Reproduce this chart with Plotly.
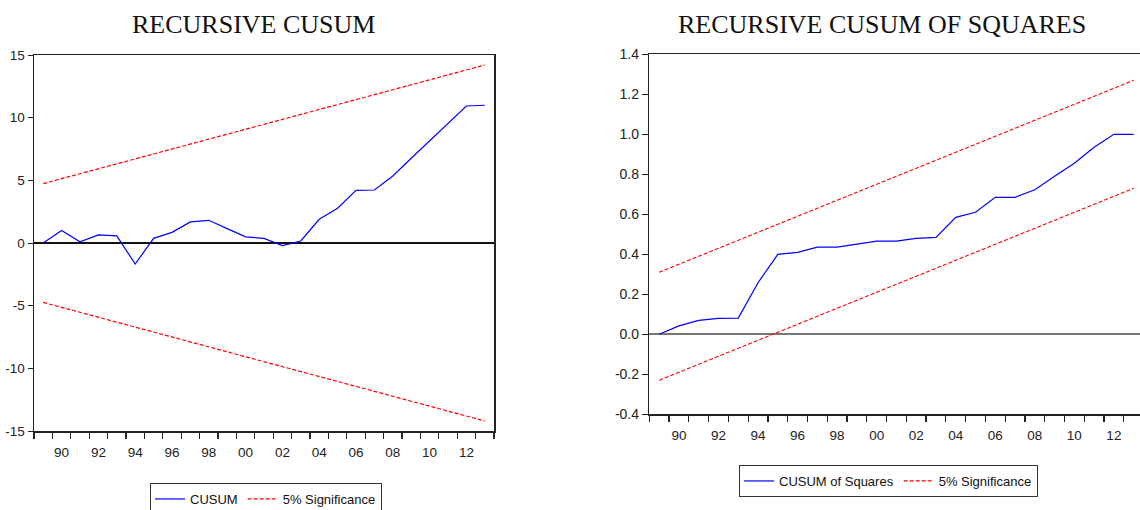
import plotly.graph_objects as go

# ---------------- data ----------------
years = list(range(1989, 2014))
cusum = [0.0, 1.0, 0.1, 0.65, 0.57, -1.68, 0.37, 0.85, 1.68, 1.81, 1.15, 0.49,
         0.37, -0.21, 0.16, 1.89, 2.77, 4.20, 4.23, 5.35, 6.76, 8.17, 9.55, 10.93, 10.99]
band_years = [1989, 2013]
cusum_upper = [4.74, 14.2]
cusum_lower = [-4.74, -14.2]

cusum_sq = [0.0, 0.042, 0.07, 0.08, 0.081, 0.258, 0.40, 0.41, 0.436, 0.436, 0.451, 0.466,
            0.466, 0.48, 0.485, 0.585, 0.61, 0.685, 0.685, 0.723, 0.79, 0.855, 0.935, 1.0, 1.0]
sq_upper = [0.31, 1.27]
sq_lower = [-0.23, 0.73]

label_years = [1990, 1992, 1994, 1996, 1998, 2000, 2002, 2004, 2006, 2008, 2010, 2012]
label_text = ["90", "92", "94", "96", "98", "00", "02", "04", "06", "08", "10", "12"]

cusum_yticks = [-15, -10, -5, 0, 5, 10, 15]
cusum_ylabels = ["-15", "-10", "-5", "0", "5", "10", "15"]
sq_yticks = [-0.4, -0.2, 0.0, 0.2, 0.4, 0.6, 0.8, 1.0, 1.2, 1.4]
sq_ylabels = ["-0.4", "-0.2", "0.0", "0.2", "0.4", "0.6", "0.8", "1.0", "1.2", "1.4"]

# ---------------- layout helpers ----------------
W, H = 1140, 510
fx = lambda p: p / W
fy = lambda p: 1 - p / H

BLUE = "#0000FF"
RED = "#FF0000"
DASH = "4px,2px"
AX = "#222222"
TICKFONT = dict(family="Liberation Sans, Arial, sans-serif", size=13.5, color="#222222")
LEGFONT = dict(family="Liberation Sans, Arial, sans-serif", size=13, color="#111111")
TITLEFONT = dict(family="Liberation Serif, Times New Roman, serif", size=26, color="#111111")

fig = go.Figure()

# left chart
fig.add_trace(go.Scatter(x=years, y=cusum, mode="lines", name="CUSUM",
                         line=dict(color=BLUE, width=1.2), xaxis="x", yaxis="y",
                         legend="legend"))
fig.add_trace(go.Scatter(x=band_years, y=cusum_upper, mode="lines", name="5% Significance",
                         line=dict(color=RED, width=1.2, dash=DASH), xaxis="x", yaxis="y",
                         legend="legend", legendgroup="sig1"))
fig.add_trace(go.Scatter(x=band_years, y=cusum_lower, mode="lines", name="5% Significance",
                         line=dict(color=RED, width=1.2, dash=DASH), xaxis="x", yaxis="y",
                         legend="legend", legendgroup="sig1", showlegend=False))

# right chart
fig.add_trace(go.Scatter(x=years, y=cusum_sq, mode="lines", name="CUSUM of Squares",
                         line=dict(color=BLUE, width=1.2), xaxis="x2", yaxis="y2",
                         legend="legend2"))
fig.add_trace(go.Scatter(x=band_years, y=sq_upper, mode="lines", name="5% Significance",
                         line=dict(color=RED, width=1.2, dash=DASH), xaxis="x2", yaxis="y2",
                         legend="legend2", legendgroup="sig2"))
fig.add_trace(go.Scatter(x=band_years, y=sq_lower, mode="lines", name="5% Significance",
                         line=dict(color=RED, width=1.2, dash=DASH), xaxis="x2", yaxis="y2",
                         legend="legend2", legendgroup="sig2", showlegend=False))

def xaxis_style(domain, rng, anchor):
    return dict(
        domain=domain, range=rng, anchor=anchor,
        tickmode="array", tickvals=label_years, ticktext=label_text,
        ticks="outside", ticklen=8, tickcolor="rgba(0,0,0,0)", tickfont=TICKFONT,
        showline=True, linecolor=AX, linewidth=1.5, mirror=True,
        showgrid=False, zeroline=False, fixedrange=True, automargin=False,
        minor=dict(tickmode="linear", tick0=1988.5, dtick=1, ticks="outside",
                   ticklen=6, tickcolor=AX, tickwidth=1.2, showgrid=False),
    )

fig.update_layout(
    width=W, height=H,
    margin=dict(l=0, r=0, t=0, b=0, autoexpand=False),
    paper_bgcolor="white", plot_bgcolor="white",
    xaxis=xaxis_style([fx(34), fx(494)], [1988.5, 2013.5], "y"),
    yaxis=dict(domain=[fy(431), fy(55)], range=[-15, 15], anchor="x",
               tickmode="array", tickvals=cusum_yticks, ticktext=cusum_ylabels,
               ticks="outside", ticklen=5, tickcolor=AX,
               tickfont=TICKFONT, showline=True, linecolor=AX, linewidth=1.5, mirror=True,
               showgrid=False, zeroline=True, zerolinecolor="#111111", zerolinewidth=1.3,
               fixedrange=True, automargin=False),
    xaxis2=xaxis_style([fx(649.3), 1.0], [1988.5, 1988.5 + (1140 - 649.3) / 19.77], "y2"),
    yaxis2=dict(domain=[fy(414.3), fy(54.3)], range=[-0.4, 1.4], anchor="x2",
                tickmode="array", tickvals=sq_yticks, ticktext=sq_ylabels,
                ticks="outside", ticklen=6,
                tickcolor=AX, tickfont=dict(TICKFONT, size=14), showline=True,
                linecolor=AX, linewidth=1.5, mirror=False, showgrid=False,
                zeroline=True, zerolinecolor="#777777", zerolinewidth=2.2,
                fixedrange=True, automargin=False),
    showlegend=True,
    legend=dict(x=fx(150), y=fy(483), xanchor="left", yanchor="top",
                orientation="h", bordercolor="#333333", borderwidth=1, bgcolor="white",
                font=LEGFONT, itemwidth=30),
    legend2=dict(x=fx(739), y=fy(465), xanchor="left", yanchor="top",
                 orientation="h", bordercolor="#333333", borderwidth=1, bgcolor="white",
                 font=LEGFONT, itemwidth=30),
    annotations=[
        dict(text="RECURSIVE CUSUM", x=fx(253), y=fy(24), xref="paper", yref="paper",
             xanchor="center", yanchor="middle", showarrow=False, font=TITLEFONT),
        dict(text="RECURSIVE CUSUM OF SQUARES", x=fx(882), y=fy(24), xref="paper", yref="paper",
             xanchor="center", yanchor="middle", showarrow=False, font=TITLEFONT),
    ],
)

fig.write_html("out.html",
               config={"displayModeBar": False, "staticPlot": True},
               post_script="document.body.style.margin='0';document.body.style.padding='0';")
